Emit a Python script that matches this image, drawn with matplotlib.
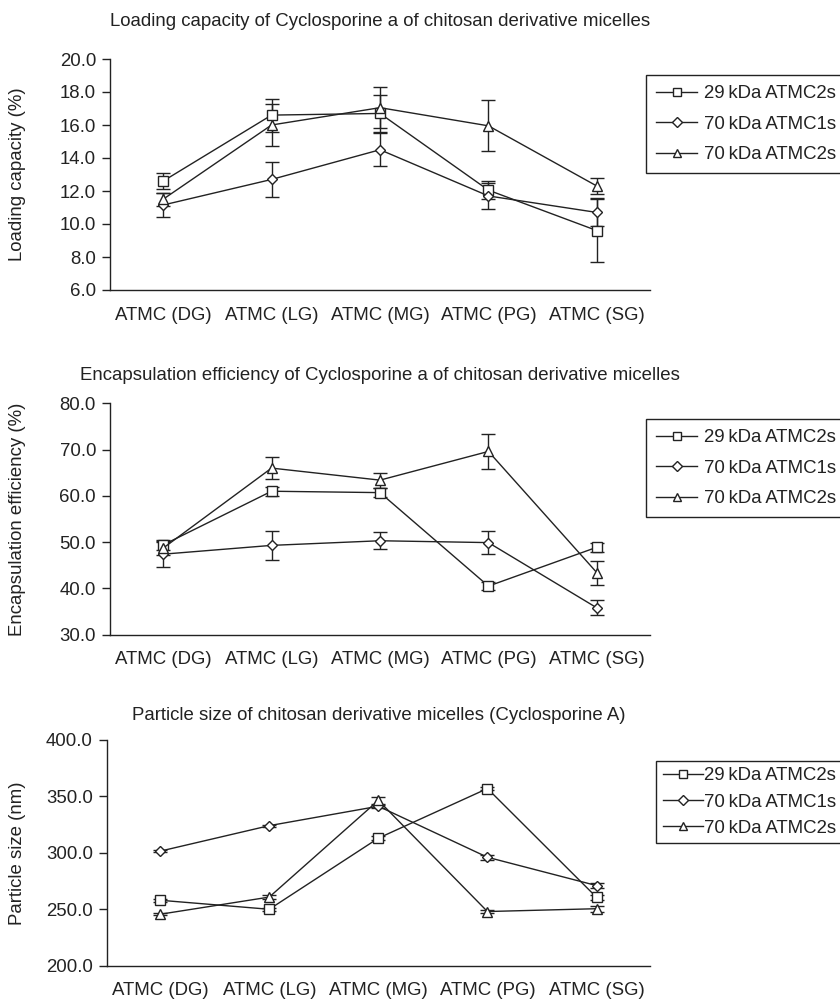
import matplotlib.pyplot as plt
from matplotlib.lines import Line2D
import numpy as np

plt.rcParams['font.family'] = ['Liberation Sans', 'DejaVu Sans']

categories = ['ATMC (DG)', 'ATMC (LG)', 'ATMC (MG)', 'ATMC (PG)', 'ATMC (SG)']
series_names = ['29\u2009kDa\u2009ATMC2s', '70\u2009kDa\u2009ATMC1s', '70\u2009kDa\u2009ATMC2s']

# loading capacity (%)
lc_29_2s = [12.6, 16.6, 16.7, 12.05, 9.6]
lc_29_2s_err = [0.5, 1.0, 1.1, 0.55, 1.9]
lc_70_1s = [11.15, 12.7, 14.5, 11.7, 10.7]
lc_70_1s_err = [0.7, 1.05, 1.0, 0.8, 0.85]
lc_70_2s = [11.5, 16.0, 17.05, 15.95, 12.3]
lc_70_2s_err = [0.4, 1.3, 1.25, 1.55, 0.5]

# encapsulation efficiency (%)
ee_29_2s = [49.4, 61.0, 60.7, 40.5, 48.9]
ee_29_2s_err = [1.0, 1.0, 1.0, 0.8, 1.0]
ee_70_1s = [47.4, 49.3, 50.3, 49.9, 35.8]
ee_70_1s_err = [2.7, 3.2, 1.8, 2.4, 1.6]
ee_70_2s = [48.7, 66.0, 63.4, 69.6, 43.4]
ee_70_2s_err = [1.5, 2.4, 1.6, 3.8, 2.6]

# particle size (nm)
ps_29_2s = [258.0, 250.0, 313.0, 357.0, 260.6]
ps_29_2s_err = [1.5, 1.5, 2.0, 1.5, 2.0]
ps_70_1s = [301.5, 324.1, 341.3, 296.1, 271.0]
ps_70_1s_err = [1.0, 1.0, 1.5, 2.0, 2.5]
ps_70_2s = [245.6, 260.8, 346.5, 248.0, 250.5]
ps_70_2s_err = [1.0, 1.5, 3.0, 1.5, 2.5]

markers = ['s', 'D', '^']
msizes = [6.5, 5.5, 7.5]
ink = '#222222'
fs = 13.4

panels = [
    dict(title='Loading capacity of Cyclosporine a of chitosan derivative micelles',
         ylabel='Loading capacity (%)', ylim=(6, 20), yticks=np.arange(6, 20.1, 2),
         data=[(lc_29_2s, lc_29_2s_err), (lc_70_1s, lc_70_1s_err), (lc_70_2s, lc_70_2s_err)],
         rect=[110 / 840, 1 - 290 / 999, 540 / 840, 231 / 999], title_y=22,
         leg=(646 / 840, 1 - 75 / 999), compact=False),
    dict(title='Encapsulation efficiency of Cyclosporine a of chitosan derivative micelles',
         ylabel='Encapsulation efficiency (%)', ylim=(30, 80), yticks=np.arange(30, 80.1, 10),
         data=[(ee_29_2s, ee_29_2s_err), (ee_70_1s, ee_70_1s_err), (ee_70_2s, ee_70_2s_err)],
         rect=[110 / 840, 1 - 634.7 / 999, 540 / 840, 231.4 / 999], title_y=376,
         leg=(646 / 840, 1 - 419 / 999), compact=False),
    dict(title='Particle size of chitosan derivative micelles (Cyclosporine A)',
         ylabel='Particle size (nm)', ylim=(200, 400), yticks=np.arange(200, 400.1, 50),
         data=[(ps_29_2s, ps_29_2s_err), (ps_70_1s, ps_70_1s_err), (ps_70_2s, ps_70_2s_err)],
         rect=[106.7 / 840, 1 - 965.7 / 999, 543.3 / 840, 225.7 / 999], title_y=715,
         leg=(656 / 840, 1 - 760.7 / 999), compact=True),
]

fig = plt.figure(figsize=(8.4, 9.99), dpi=100)
x = np.arange(len(categories))

for p in panels:
    ax = fig.add_axes(p['rect'])
    for (vals, errs), name, m, ms in zip(p['data'], series_names, markers, msizes):
        ax.errorbar(x, vals, yerr=errs, color=ink, lw=1, marker=m, ms=ms,
                    mfc='white', mec=ink, mew=1, capsize=5, capthick=1,
                    elinewidth=1)
    ax.set_xlim(-0.49, 4.49)
    ax.set_ylim(*p['ylim'])
    ax.set_yticks(p['yticks'])
    ax.set_yticklabels([f'{v:.1f}' for v in p['yticks']], fontsize=fs, color=ink)
    ax.set_xticks(x)
    ax.set_xticklabels(categories, fontsize=fs, color=ink)
    ax.tick_params(axis='x', length=0, pad=12)
    ax.tick_params(axis='y', length=6, width=1, direction='out', pad=4, color=ink)
    for s in ['top', 'right']:
        ax.spines[s].set_visible(False)
    for s in ['left', 'bottom']:
        ax.spines[s].set_color(ink)
        ax.spines[s].set_linewidth(1)

    l, b, w, h = p['rect']
    fig.text(l + w / 2, 1 - p['title_y'] / 999, p['title'], fontsize=fs, color=ink,
             ha='center', va='center')
    fig.text(18 / 840, b + h / 2, p['ylabel'], fontsize=fs, color=ink,
             ha='center', va='center', rotation=90)

    handles = [Line2D([], [], color=ink, lw=1, marker=m, ms=ms * 0.85, mfc='white',
                      mec=ink, mew=1) for m, ms in zip(markers, msizes)]
    leg = fig.legend(handles, series_names, loc='upper left', bbox_to_anchor=p['leg'],
                     frameon=True, fancybox=False, edgecolor=ink, fontsize=fs,
                     handlelength=2.2, handletextpad=0.05 if p['compact'] else 0.35,
                     labelspacing=0.5 if p['compact'] else 0.72,
                     borderpad=0.35 if p['compact'] else 0.55,
                     borderaxespad=0, framealpha=1)
    leg.get_frame().set_linewidth(1)
    for t in leg.get_texts():
        t.set_color(ink)

fig.savefig('out.png', dpi=100)
